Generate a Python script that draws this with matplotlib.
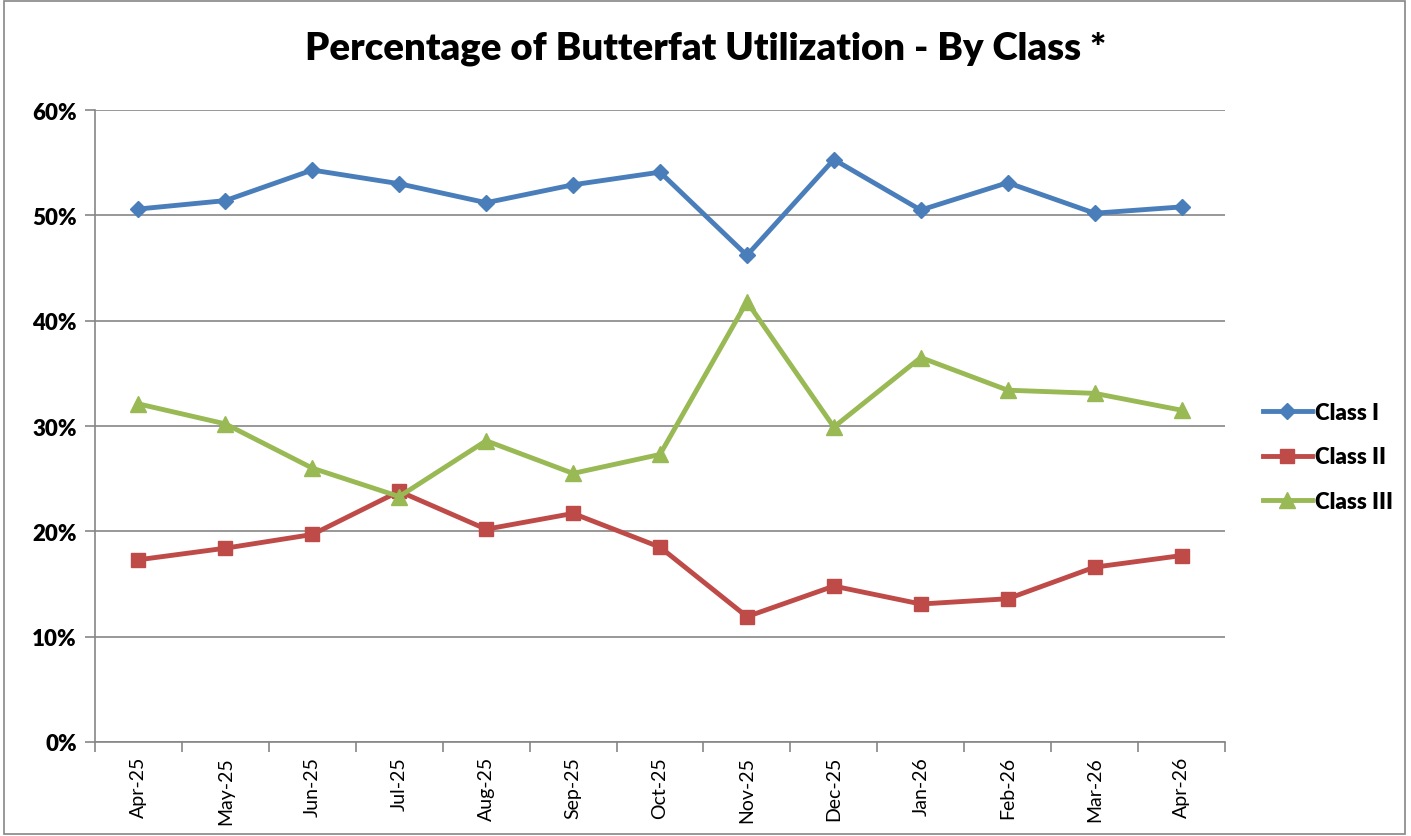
import matplotlib
matplotlib.use("Agg")
import matplotlib.pyplot as plt
from matplotlib.ticker import FuncFormatter, FixedLocator
from matplotlib.patches import Rectangle

plt.rcParams['font.family'] = ['Lato', 'DejaVu Sans']

months = ['Apr-25', 'May-25', 'Jun-25', 'Jul-25', 'Aug-25', 'Sep-25', 'Oct-25',
          'Nov-25', 'Dec-25', 'Jan-26', 'Feb-26', 'Mar-26', 'Apr-26']
class_1 = [50.6, 51.4, 54.3, 53.0, 51.2, 52.9, 54.1, 46.2, 55.3, 50.5, 53.1, 50.2, 50.8]
class_2 = [17.3, 18.4, 19.7, 23.8, 20.2, 21.7, 18.5, 11.9, 14.8, 13.1, 13.6, 16.6, 17.7]
class_3 = [32.1, 30.2, 26.0, 23.3, 28.6, 25.5, 27.3, 41.8, 29.9, 36.5, 33.4, 33.1, 31.5]

fig = plt.figure(figsize=(14.11, 8.37), dpi=100)
ax = fig.add_axes([95 / 1411, 1 - 743 / 837, 1130 / 1411, 632 / 837])

x = range(len(months))
ax.plot(x, class_1, color='#4a7ebb', lw=3.5, marker='D', ms=8, label='Class I')
ax.plot(x, class_2, color='#be4b48', lw=3.5, marker='s', ms=10, label='Class II')
ax.plot(x, class_3, color='#98b954', lw=3.5, marker='^', ms=12, label='Class III')

ax.set_xlim(-0.5, len(months) - 0.5)
ax.set_ylim(0, 60)
ax.set_yticks(range(0, 61, 10))
ax.yaxis.set_major_formatter(FuncFormatter(lambda v, p: '%d%%' % v))
ax.grid(axis='y', color='#868686', lw=1.2)
ax.set_axisbelow(True)

ax.set_xticks(list(x))
ax.set_xticklabels(months, rotation=90, fontsize=14)
ax.xaxis.set_minor_locator(FixedLocator([i - 0.5 for i in range(len(months) + 1)]))
ax.tick_params(axis='x', which='major', length=0, pad=10)
ax.tick_params(axis='x', which='minor', length=7, color='#868686', width=1.2)
ax.tick_params(axis='y', length=7, color='#868686', width=1.2, labelsize=16, pad=6)
for lab in ax.get_yticklabels():
    lab.set_fontweight('heavy')

for s in ['top', 'right']:
    ax.spines[s].set_visible(False)
for s in ['left', 'bottom']:
    ax.spines[s].set_color('#868686')
    ax.spines[s].set_linewidth(1.2)

fig.suptitle('Percentage of Butterfat Utilization - By Class *', fontsize=27.5,
             fontweight='heavy', y=0.962)

leg = fig.legend(loc='center left', bbox_to_anchor=(1243 / 1411, 1 - 458 / 837),
                 frameon=False, labelspacing=1.05, handlelength=2.2,
                 handletextpad=0.15, prop={'weight': 'heavy', 'size': 16})

fig.patches.append(Rectangle((4 / 1411, 2 / 837), 1401 / 1411, 833 / 837,
                             transform=fig.transFigure, fill=False,
                             edgecolor='#868686', lw=1.2))

fig.savefig('out.png', dpi=100)
